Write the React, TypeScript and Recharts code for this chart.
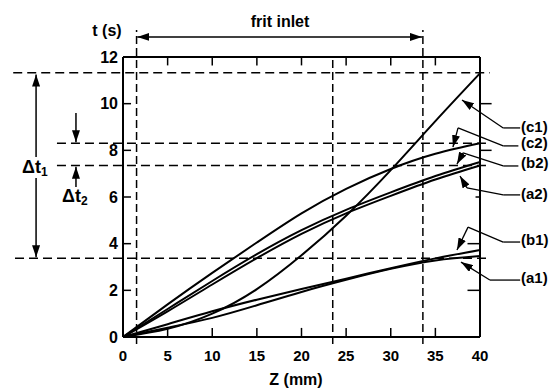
import React from "react";
import { LineChart, Line, XAxis, YAxis, ReferenceLine } from "recharts";

// Z positions (mm) and elution times t (s)
const zMm = [0, 5, 10, 15, 20, 25, 30, 35, 40];
const a1 = [0, 0.4, 0.82, 1.36, 1.93, 2.45, 2.92, 3.28, 3.47];
const b1 = [0, 0.55, 1.1, 1.6, 2.06, 2.5, 2.95, 3.37, 3.73];
const a2 = [0, 1.1, 2.25, 3.38, 4.42, 5.3, 6.05, 6.75, 7.35];
const b2 = [0, 1.2, 2.4, 3.55, 4.58, 5.45, 6.2, 6.9, 7.5];
const c1 = [0, 0.35, 1.0, 2.05, 3.5, 5.2, 7.15, 9.25, 11.3];
const c2 = [0, 1.4, 2.75, 4.05, 5.3, 6.35, 7.2, 7.85, 8.3];

const xTicks = [0, 5, 10, 15, 20, 25, 30, 35, 40];
const yTicks = [0, 2, 4, 6, 8, 10, 12];

// dashed guide lines: t level, left end, right end (data units)
const tLevels = [
  { t: 11.33, from: -12.3, to: 41.1 },
  { t: 8.3, from: -7.4, to: 41.1 },
  { t: 7.35, from: -7.4, to: 41.1 },
  { t: 3.37, from: -12.1, to: 41.1 },
];
const zLevels = [
  { z: 1.52, from: -0.3, to: 13.16 },
  { z: 23.5, from: -0.3, to: 12 },
  { z: 33.6, from: -0.3, to: 13.16 },
];

// leader lines from callout label to curve (last point is the arrow tip)
const leaders = [
  { name: "(c1)", pts: [[44.5, 8.96], [42.6, 8.96], [37.98, 10.16]] },
  { name: "(c2)", pts: [[44.3, 8.19], [42.6, 8.19], [37.54, 8.96], [36.97, 8.14]] },
  { name: "(b2)", pts: [[44.3, 7.33], [42.6, 7.33], [38.1, 7.89], [37.42, 7.41]] },
  { name: "(a2)", pts: [[44.5, 6.09], [42.6, 6.09], [38.54, 6.39], [37.76, 6.9]] },
  { name: "(b1)", pts: [[44.5, 4.07], [42.6, 4.07], [38.66, 4.71], [37.42, 3.73]] },
  { name: "(a1)", pts: [[44.5, 2.44], [41.1, 2.44], [37.87, 3.21]] },
];

const callouts = [
  { text: "(c1)", y: 132 },
  { text: "(c2)", y: 148 },
  { text: "(b2)", y: 168 },
  { text: "(a2)", y: 199 },
  { text: "(b1)", y: 245 },
  { text: "(a1)", y: 283 },
];

const data = zMm.map((z, i) => ({
  z,
  a1: a1[i],
  b1: b1[i],
  a2: a2[i],
  b2: b2[i],
  c1: c1[i],
  c2: c2[i],
}));

const FONT = "'Liberation Sans', Arial, Helvetica, sans-serif";

const seg = (
  key: string,
  p1: number[],
  p2: number[],
  opts: { dash?: string; width?: number; arrow?: "end" | "both" } = {}
) => (
  <ReferenceLine
    key={key}
    segment={[
      { x: p1[0], y: p1[1] },
      { x: p2[0], y: p2[1] },
    ]}
    ifOverflow="visible"
    shape={(p: any) => (
      <line
        x1={p.x1}
        y1={p.y1}
        x2={p.x2}
        y2={p.y2}
        stroke="#000"
        strokeWidth={opts.width ?? 1.5}
        strokeDasharray={opts.dash}
        markerEnd={opts.arrow ? "url(#arrowHead)" : undefined}
        markerStart={opts.arrow === "both" ? "url(#arrowHeadStart)" : undefined}
      />
    )}
  />
);

export default function App() {
  const series = ["a1", "b1", "a2", "b2", "c1", "c2"];
  const txt = { fontFamily: FONT, fontWeight: 700, fill: "#000" } as const;

  return (
    <div style={{ position: "absolute", left: 0, top: 0, width: 560, height: 388, background: "#fff" }}>
      <LineChart
        width={560}
        height={388}
        data={data}
        margin={{ top: 57, right: 80, bottom: 21, left: 63 }}
      >
        <XAxis
          type="number"
          dataKey="z"
          domain={[0, 40]}
          ticks={xTicks}
          height={30}
          tickLine={false}
          tickSize={0}
          tickMargin={13}
          axisLine={{ stroke: "#000", strokeWidth: 2 }}
          tick={{ fill: "#000", fontSize: 15, fontWeight: 700, fontFamily: FONT }}
        />
        <YAxis
          type="number"
          domain={[0, 12]}
          ticks={yTicks}
          width={60}
          tickLine={false}
          tickSize={0}
          tickMargin={5}
          axisLine={{ stroke: "#000", strokeWidth: 2 }}
          tick={{ fill: "#000", fontSize: 16, fontWeight: 700, fontFamily: FONT }}
        />

        {/* frame: top and right */}
        {seg("frameTop", [0, 12], [40, 12], { width: 2 })}
        {seg("frameRight", [40, 12], [40, 0], { width: 2 })}

        {/* inward ticks */}
        {xTicks.slice(1, -1).map((z) => seg(`bt${z}`, [z, 0], [z, 0.39], { width: 1.5 }))}
        {xTicks.slice(1, -1).map((z) => seg(`tt${z}`, [z, 12], [z, 11.64], { width: 1.5 }))}
        {yTicks.slice(1, -1).map((t) => seg(`lt${t}`, [0, t], [0.9, t], { width: 1.5 }))}
        {seg("rt10", [40, 10], [41.3, 10], { width: 1.5 })}
        {seg("rt8", [40, 8], [41.3, 8], { width: 1.5 })}
        {seg("rt6", [40, 6], [39.5, 6], { width: 1.5 })}
        {seg("rt4", [40, 4], [38.6, 4], { width: 1.5 })}
        {seg("rt2", [40, 2], [38.6, 2], { width: 1.5 })}

        {/* dashed guides */}
        {tLevels.map((l) => seg(`h${l.t}`, [l.from, l.t], [l.to, l.t], { dash: "9 5", width: 1.5 }))}
        {zLevels.map((l) => seg(`v${l.z}`, [l.z, l.from], [l.z, l.to], { dash: "8 4", width: 1.5 }))}

        {/* frit inlet arrow */}
        {seg("frit", [1.6, 12.86], [33.5, 12.86], { arrow: "both", width: 1.6 })}

        {/* delta t1 */}
        {seg("dt1a", [-9.74, 7.71], [-9.74, 11.25], { arrow: "end" })}
        {seg("dt1b", [-9.74, 6.81], [-9.74, 3.42], { arrow: "end" })}
        {/* delta t2 */}
        {seg("dt2a", [-5.27, 9.6], [-5.27, 8.35], { arrow: "end" })}
        {seg("dt2b", [-5.27, 6.43], [-5.27, 7.3], { arrow: "end" })}

        {/* callout leaders */}
        {leaders.flatMap((l) =>
          l.pts.slice(1).map((p, i) =>
            seg(`${l.name}${i}`, l.pts[i], p, {
              width: 1.3,
              arrow: i === l.pts.length - 2 ? "end" : undefined,
            })
          )
        )}

        {series.map((k) => (
          <Line
            key={k}
            dataKey={k}
            type="natural"
            stroke="#000"
            strokeWidth={2}
            dot={false}
            isAnimationActive={false}
          />
        ))}
      </LineChart>

      <svg
        width={560}
        height={388}
        style={{ position: "absolute", left: 0, top: 0, pointerEvents: "none" }}
      >
        <defs>
          <marker id="arrowHead" markerUnits="userSpaceOnUse" markerWidth={12} markerHeight={8} viewBox="0 0 12 8" refX={12} refY={4} orient="auto">
            <path d="M0,0 L12,4 L0,8 z" fill="#000" />
          </marker>
          <marker id="arrowHeadStart" markerUnits="userSpaceOnUse" markerWidth={12} markerHeight={8} viewBox="0 0 12 8" refX={12} refY={4} orient="auto-start-reverse">
            <path d="M0,0 L12,4 L0,8 z" fill="#000" />
          </marker>
        </defs>
        <text x={107} y={36} textAnchor="middle" fontSize={16} {...txt}>t (s)</text>
        <text x={280} y={27} textAnchor="middle" fontSize={16} {...txt}>frit inlet</text>
        <text x={296} y={385} textAnchor="middle" fontSize={16} {...txt}>Z (mm)</text>
        <text x={22} y={173} fontSize={18} {...txt}>
          Δt<tspan fontSize={12} dy={3}>1</tspan>
        </text>
        <text x={62} y={202} fontSize={18} {...txt}>
          Δt<tspan fontSize={12} dy={3}>2</tspan>
        </text>
        {callouts.map((c) => (
          <text key={c.text} x={521} y={c.y} fontSize={15} {...txt}>
            {c.text}
          </text>
        ))}
      </svg>
    </div>
  );
}
